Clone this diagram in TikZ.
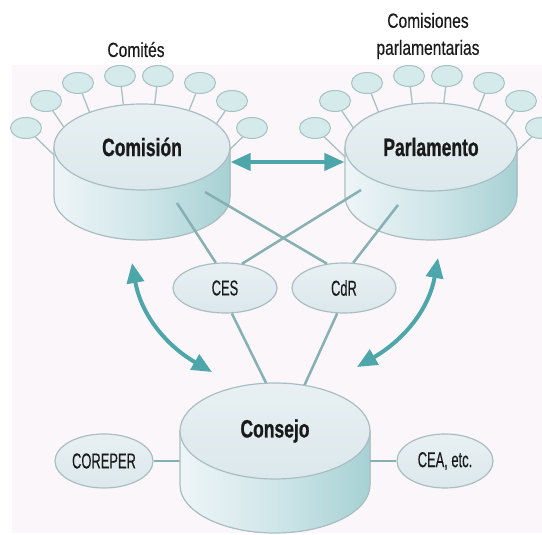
\documentclass[tikz,border=0pt]{standalone}
\usepackage{fontspec}
\setmainfont{Liberation Sans}
\newfontfamily\titlefont{Liberation Sans Bold}[FakeStretch=0.70, FakeBold=0.8]
\newfontfamily\labfont{Liberation Sans}[FakeStretch=0.76, FakeBold=0.3]
\newfontfamily\inlabfont{Liberation Sans}[FakeStretch=0.60, FakeBold=0.3]
\usetikzlibrary{shapes.geometric,arrows.meta}
\definecolor{bgc}{HTML}{FBF6FA}
\definecolor{topfill}{HTML}{DCE8EC}
\definecolor{toplight}{HTML}{E8F0F3}
\definecolor{sidel}{HTML}{EEF5F8}
\definecolor{sidem}{HTML}{D0E6E9}
\definecolor{sider}{HTML}{A6D1D4}
\definecolor{cylline}{HTML}{A9BEC2}
\definecolor{connc}{HTML}{86B0B3}
\definecolor{arrc}{HTML}{4DA6A9}
\definecolor{satfill}{HTML}{D5EAEA}
\definecolor{satdraw}{HTML}{A5C2C4}
\definecolor{txt}{HTML}{1A1A1A}
\newcommand\mycyl[5]{%
  \fill[left color=sidel, right color=sider, middle color=sidem]
    ({#1-#3},#2) -- ({#1-#3},{#2-#5}) arc[start angle=180,end angle=360,x radius=#3,y radius=#4] -- ({#1+#3},#2) -- cycle;
  \draw[draw=cylline, line width=1.2pt]
    ({#1-#3},#2) -- ({#1-#3},{#2-#5}) arc[start angle=180,end angle=360,x radius=#3,y radius=#4] -- ({#1+#3},#2);
}
\begin{document}
\begin{tikzpicture}[x=1pt,y=1pt,
  topell/.style={ellipse, draw=cylline, line width=1.2pt, top color=toplight, bottom color=topfill, inner sep=0pt,
    text=txt, font=\titlefont\fontsize{25}{28}\selectfont},
  sat/.style={ellipse, draw=satdraw, fill=satfill, line width=1pt, minimum width=31pt, minimum height=21pt, inner sep=0pt},
  satline/.style={draw=satdraw, line width=1.3pt},
  smallell/.style={ellipse, draw=cylline, line width=1.2pt, top color=toplight, bottom color=topfill, inner sep=0pt,
    text=txt, font=\inlabfont\fontsize{21.5}{24}\selectfont},
  conn/.style={draw=connc, line width=2.5pt},
  darr/.style={draw=arrc, line width=4pt, {Triangle[length=20pt,width=17pt]}-{Triangle[length=20pt,width=17pt]}},
  toplabel/.style={inner sep=0pt, text=txt, font=\labfont\fontsize{20.5}{27}\selectfont, align=center}
]
\useasboundingbox (0,0) rectangle (542,535);
\fill[bgc] (12,2) rectangle (542,470);

% labels
\node[toplabel, anchor=base] (lcom) at (136,478) {Comités};
\node[toplabel] (lparl) at (428,499) {Comisiones\\parlamentarias};

% satellites
\coordinate (hubc) at (139,298);
\coordinate (hubp) at (428,298);
\foreach \x/\y [count=\i] in {26/407,46/434,78/452,120/459,158/459,200/452,232/434,252/407}
  \node[sat] (sc\i) at (\x,\y) {};
\foreach \x/\y [count=\i] in {315/407,335/434,367/452,409/459,447/459,489/452,521/434,541/407}
  \node[sat] (sp\i) at (\x,\y) {};
\foreach \i in {1,...,8} {
  \draw[satline] (sc\i) -- (hubc);
  \draw[satline] (sp\i) -- (hubp);
}

% Comision and Parlamento cylinders
\mycyl{142}{388}{88}{43}{50}
\node[topell, minimum width=176pt, minimum height=86pt] (comision) at (142,388) {Comisión};
\mycyl{431}{388}{86}{44}{49}
\node[topell, minimum width=172pt, minimum height=88pt] (parlamento) at (431,388) {Parlamento};

% CES and CdR
\node[smallell, minimum width=104pt, minimum height=50pt] (ces) at (225,247) {CES};
\node[smallell, minimum width=104pt, minimum height=50pt] (cdr) at (344,247) {CdR};

\coordinate (cA) at (177,332);
\coordinate (cB) at (205,343);
\coordinate (cC) at (361,345);
\coordinate (cD) at (398,330);
\draw[conn] (cA) -- (ces.110);
\draw[conn] (cB) -- (cdr.125);
\draw[conn] (cC) -- (ces.55);
\draw[conn] (cD) -- (cdr.70);

% COREPER, CEA
\node[smallell, minimum width=98pt, minimum height=54pt] (coreper) at (104,74) {COREPER};
\node[smallell, minimum width=96pt, minimum height=54pt] (cea) at (445,74) {CEA, etc.};

\coordinate (kE) at (272,140);
\coordinate (kF) at (300,140);
\coordinate (kG) at (200,74);
\coordinate (kH) at (350,74);
\draw[conn] (ces.-75) -- (kE);
\draw[conn] (cdr.-105) -- (kF);
\draw[conn] (coreper) -- (kG);
\draw[conn] (cea) -- (kH);

% Consejo
\mycyl{275}{104}{95}{48}{54}
\node[topell, minimum width=190pt, minimum height=96pt] (consejo) at (275,104) {Consejo};

% arrows
\draw[darr] ([yshift=-15pt]comision.east) -- ([yshift=-15pt]parlamento.west);
\coordinate (la1) at (132,272);
\coordinate (la2) at (212,163);
\coordinate (ra1) at (438,277);
\coordinate (ra2) at (357,168);
\draw[darr] (la1) to[out=-80,in=150] (la2);
\draw[darr] (ra1) to[out=-100,in=30] (ra2);
\end{tikzpicture}
\end{document}
